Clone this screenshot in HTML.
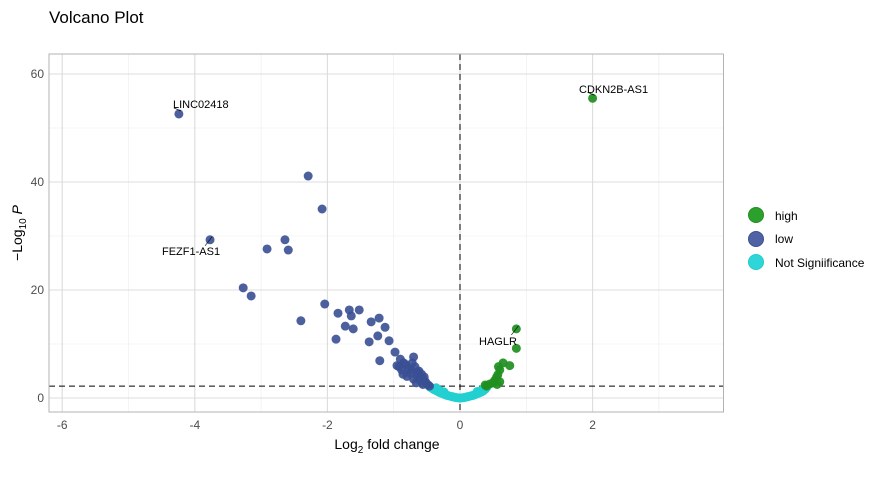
<!DOCTYPE html>
<html><head><meta charset="utf-8"><style>
body{margin:0;background:#fff;}
svg{display:block;font-family:"Liberation Sans",sans-serif;}
</style></head><body>
<svg id="chart" width="882" height="482">
<text x="49" y="23" font-size="17" fill="#000">Volcano Plot</text>
<g id="grid"></g>
<g id="ref"></g>
<g id="pts"></g>
<g id="lbls"></g>
<rect x="49" y="54" width="674.5" height="358" fill="none" stroke="#b3b3b3" stroke-width="1"/>
<g id="axes"></g>
<text x="387" y="449" font-size="14" text-anchor="middle" fill="#000">Log<tspan font-size="10" dy="4">2</tspan><tspan dy="-4"> fold change</tspan></text>
<text transform="translate(22,233) rotate(-90)" font-size="14" text-anchor="middle" fill="#000">−Log<tspan font-size="10" dy="4">10</tspan><tspan dy="-4" font-style="italic"> P</tspan></text>
<g>
<circle cx="756" cy="215" r="7.5" fill="#2ca02c" stroke="#1f8f1f"/>
<text x="775" y="220" font-size="12">high</text>
<circle cx="756" cy="239" r="7.5" fill="#4f62a3" stroke="#3d4f90"/>
<text x="775" y="243" font-size="12">low</text>
<circle cx="756" cy="262" r="7.5" fill="#2fd6d8" stroke="#22c9cb"/>
<text x="775" y="267" font-size="12">Not Signiificance</text>
</g>
</svg>
<script>
const xTicks=[-6,-4,-2,0,2];
const yTicks=[0,20,40,60];
const xMinor=[-5,-3,-1,1,3];
const yMinor=[10,30,50];
const lowX=[-4.24,-3.77,-2.91,-2.64,-2.59,-2.29,-2.08,-3.27,-3.15,-2.4,-2.04,-1.84,-1.87,-1.67,-1.64,-1.73,-1.52,-1.61,-1.34,-1.22,-1.13,-1.37,-1.24,-1.07,-1.21,-0.98,-0.9,-0.85,-0.7,-0.92,-0.88,-0.82,-0.78,-0.75,-0.72,-0.68,-0.65,-0.62,-0.6,-0.58,-0.55,-0.52,-0.5,-0.48,-0.8,-0.7,-0.66,-0.6,-0.56,-0.74,-0.64,-0.54,-0.46,-0.95,-0.86];
const lowY=[52.6,29.3,27.6,29.3,27.4,41.1,35,20.4,18.9,14.3,17.4,15.7,10.9,16.3,15.2,13.3,16.3,12.8,14.1,14.8,13.1,10.4,11.5,10.6,6.9,8.5,7.2,6.5,7.6,5.8,5.2,6.2,5.5,4.6,6.5,5.8,4.2,5.0,3.8,4.4,3.4,3.0,2.6,2.4,4.0,3.5,2.8,3.2,2.5,5.2,4.8,3.9,2.2,6.0,4.4];
const highX=[2.0,0.85,0.85,0.75,0.65,0.6,0.57,0.55,0.52,0.5,0.56,0.6,0.45,0.4,0.38,0.58];
const highY=[55.5,12.8,9.2,6.0,6.5,5.2,4.3,3.8,3.2,2.8,2.5,3.0,2.6,2.2,2.4,5.8];
const nsX=[-0.45,-0.42,-0.4,-0.38,-0.35,-0.32,-0.3,-0.28,-0.25,-0.22,-0.2,-0.18,-0.15,-0.12,-0.1,-0.08,-0.05,-0.03,0,0.03,0.05,0.08,0.1,0.12,0.15,0.18,0.2,0.22,0.25,0.28,0.3,0.32,0.35,0.38,0.4,-0.36,-0.3,-0.24,0.26,0.33];
const nsY=[2.0,1.8,1.6,1.5,1.3,1.1,1.0,0.9,0.75,0.6,0.5,0.45,0.35,0.25,0.2,0.12,0.06,0.03,0,0.03,0.06,0.12,0.2,0.25,0.35,0.45,0.5,0.6,0.75,0.9,1.0,1.1,1.3,1.6,1.9,1.9,1.4,1.1,1.2,1.5];
const labels=[["LINC02418",-4.24,52.6,173,108],["FEZF1-AS1",-3.77,29.3,162,255],["CDKN2B-AS1",2.0,55.5,579,93],["HAGLR",0.85,12.8,479,345]];
const X=v=>460+v*66.3, Y=v=>398-v*5.4;
const ns="http://www.w3.org/2000/svg";
function mk(t,a,p){const e=document.createElementNS(ns,t);for(const k in a)e.setAttribute(k,a[k]);p.appendChild(e);return e;}
const g=document.getElementById('grid');
xMinor.forEach(v=>{const l=mk('line',{x1:X(v),x2:X(v),y1:54,y2:412,stroke:'#ececec','stroke-width':0.6},g);

});
yMinor.forEach(v=>{const l=mk('line',{x1:49,x2:723.5,y1:Y(v),y2:Y(v),stroke:'#ececec','stroke-width':0.6},g);

});
const ax=document.getElementById('axes');
xTicks.forEach(v=>{const l=mk('line',{x1:X(v),x2:X(v),y1:54,y2:412,stroke:'#dcdcdc','stroke-width':1.1},g);


const t=mk('text',{x:X(v),y:429,'font-size':12,fill:'#4d4d4d','text-anchor':'middle'},ax);t.textContent=v;

});
yTicks.forEach(v=>{const l=mk('line',{x1:49,x2:723.5,y1:Y(v),y2:Y(v),stroke:'#dcdcdc','stroke-width':1.1},g);


const t=mk('text',{x:44,y:Y(v)+4,'font-size':12,fill:'#4d4d4d','text-anchor':'end'},ax);t.textContent=v;

});
const r=document.getElementById('ref');
const vl=mk('line',{x1:X(0),x2:X(0),y1:54,y2:412,stroke:'#000','stroke-dasharray':'6,4','stroke-width':1},r);


const hl=mk('line',{x1:49,x2:723.5,y1:Y(2.2),y2:Y(2.2),stroke:'#000','stroke-dasharray':'6,4','stroke-width':1},r);


const p=document.getElementById('pts');
nsX.forEach((v,i)=>{const c=mk('circle',{cx:X(v),cy:Y(nsY[i]),r:4.5,fill:'#22cfd1'},p);

});
lowX.forEach((v,i)=>{const c=mk('circle',{cx:X(v),cy:Y(lowY[i]),r:4.5,fill:'#3a4f94','fill-opacity':0.9},p);

});
highX.forEach((v,i)=>{const c=mk('circle',{cx:X(v),cy:Y(highY[i]),r:4.5,fill:'#1f8f1f','fill-opacity':0.92},p);

});
const lb=document.getElementById('lbls');
labels.forEach(a=>{const px=X(a[1]),py=Y(a[2]);
const l=mk('line',{x1:px+2,y1:py-3,x2:px+(a[3]<px?-5:6),y2:py+(a[4]<py?-6:6),stroke:'#000','stroke-width':0.6},lb);


const t=mk('text',{x:a[3],y:a[4],'font-size':11,fill:'#000'},lb);t.textContent=a[0];

});
</script>
</body></html>
